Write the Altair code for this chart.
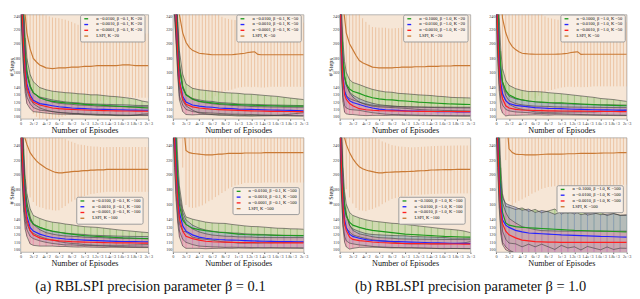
import altair as alt
import pandas as pd

SERIF = "Liberation Serif"
EPISODES = [0, 25, 50, 75, 100, 150, 200, 300, 400, 500, 600, 700, 800, 900, 1000,
            1100, 1200, 1300, 1400, 1500, 1600, 1700, 1800, 1900, 2000]
EP_FINE = list(range(0, 2001, 50))
X_TICKS = [0, 200, 400, 600, 800, 1000, 1200, 1400, 1600, 1800, 2000]
Y_TICKS = [100, 110, 120, 130, 140, 160, 180, 200, 220, 240]
ALPHAS_B01 = ["0.0100", "0.0010", "0.0001"]
ALPHAS_B10 = ["0.1000", "0.0100", "0.0010"]
CAPTION_A = "(a) RBLSPI precision parameter β = 0.1"
CAPTION_B = "(b) RBLSPI precision parameter β = 1.0"

LINE_COLORS = ["#1f9a1f", "#2424ff", "#ff1f1f", "#c97a35"]
BAND_COLORS = ["#b5d196", "#a3a8bf", "#d79aa9", "#f5e2cf"]
BAR_COLORS = ["#86b962", "#8a8fd6", "#ec7da3", "#e4aa7c"]

# ---- (a) beta = 0.1, K = 20
A20_G_MEAN = [300, 260, 215, 180, 158, 141, 133, 126, 123, 121, 120, 119, 118.5, 118, 117, 116.5, 116, 115.5, 115, 114.5, 114, 113.5, 113, 112.5, 112]
A20_G_SD = [40, 40, 35, 28, 22, 17, 15, 14, 14, 14, 14, 14, 14, 13.5, 14, 13.5, 14, 13.5, 13, 13, 12.5, 12, 11, 9, 8]
A20_B_MEAN = [300, 250, 200, 165, 145, 130, 122.5, 118, 116.5, 115, 113.6, 112.8, 112, 111.5, 111, 110.6, 110.3, 110, 109.8, 109.5, 109.3, 109.1, 109, 108.9, 108.8]
A20_B_SD = [40, 40, 35, 25, 18, 12, 10, 9, 8.5, 8, 8, 7.5, 7.5, 7.5, 7, 7, 7, 7, 7, 7, 7, 7, 6.5, 6.5, 6.5]
A20_R_MEAN = [300, 245, 195, 160, 140, 127, 120, 116, 114, 112, 111, 110.5, 110, 109.6, 109.2, 108.9, 108.6, 108.4, 108.2, 108, 107.9, 107.8, 107.7, 107.6, 107.5]
A20_R_SD = [40, 40, 35, 28, 22, 16, 13, 10, 9, 8, 7.5, 7, 7, 6.5, 6.5, 6.5, 6, 6, 6, 6, 6, 6, 6, 6, 6]
A20_L_MEAN = [320, 260, 215, 193, 180, 175, 171, 169, 167, 166.5, 166, 166.5, 167, 167, 167, 167.5, 168, 168, 168, 168.5, 169, 169, 169, 169.5, 170, 170, 170, 170, 170, 170, 170, 170.5, 171, 171, 171, 170.5, 170, 170, 170, 170, 170]
A20_L_SD = [80, 80, 80, 78, 76, 75, 74, 73, 72, 71, 70, 69, 68, 67, 66, 64, 62, 60, 58, 56, 55, 53, 52, 51, 50, 49, 48, 47, 46, 45, 45, 45, 45, 44, 44, 44, 44, 44, 44, 44, 44]

# ---- (a) beta = 0.1, K = 50
A50_G_MEAN = [310, 290, 250, 200, 165, 140, 130, 124, 121, 120, 119, 118, 117.5, 117, 116.5, 116, 115.8, 115.5, 115.2, 115, 114.8, 114.6, 114.5, 114.5, 114.5]
A50_G_SD = [40, 40, 35, 30, 25, 18, 15, 15, 16, 16, 16, 16, 15.5, 15.5, 15.5, 15, 15, 14.5, 14, 13.5, 13, 12, 11, 10, 9]
A50_B_MEAN = [310, 280, 240, 190, 150, 128, 120, 116, 114.5, 113.5, 113, 112, 111.5, 111, 110.5, 110.2, 110, 109.7, 109.4, 109.2, 109, 108.8, 108.6, 108.4, 108.2]
A50_B_SD = [40, 40, 35, 30, 22, 12, 10, 9, 8.5, 8, 8, 7.5, 7.5, 7.5, 7, 7, 7, 7, 7, 7, 7, 7, 7, 7, 7]
A50_R_MEAN = [310, 280, 235, 185, 148, 125, 117, 113.5, 112, 111, 110.3, 109.8, 109.4, 109, 108.6, 108.3, 108, 107.8, 107.6, 107.4, 107.3, 107.2, 107.1, 107, 107]
A50_R_SD = [40, 40, 35, 30, 25, 18, 14, 11, 9, 8, 7.5, 7, 7, 6.5, 6.5, 6.5, 6, 6, 6, 6, 6, 6, 6, 6, 6]
A50_L_MEAN = [330, 300, 240, 215, 202, 195, 191, 189, 187, 186.5, 186, 185.5, 185, 185, 185, 185, 185, 185, 185, 185.5, 186, 186.5, 187, 188, 188.5, 189, 185.5, 185, 185, 185, 185, 185, 185, 185, 185, 185, 185, 185, 185, 185, 185]
A50_L_SD = [80, 80, 80, 80, 80, 78, 75, 72, 70, 67, 65, 62, 60, 57, 55, 52, 50, 49, 48, 47, 46, 46, 46, 47, 48, 48, 45, 45, 45, 44.5, 44, 44, 44, 44, 44, 44, 44, 44, 44, 44, 44]

# ---- (a) beta = 0.1, K = 100
A100_G_MEAN = [300, 250, 200, 170, 155, 140, 134, 130, 127, 125, 123.5, 122, 121, 120, 119, 118.5, 118, 117.5, 117, 116.5, 116, 115.8, 115.5, 115.2, 115]
A100_G_SD = [40, 40, 35, 25, 20, 15, 12, 12, 12, 12, 12.5, 12.5, 12.5, 12, 12, 12, 12, 11.5, 11, 10.5, 10, 9.5, 9, 8.5, 8]
A100_B_MEAN = [300, 240, 190, 160, 145, 130, 125, 121, 118.5, 116.5, 115.5, 114.5, 114, 113.5, 113, 112.6, 112.3, 112, 111.7, 111.4, 111.2, 111, 110.9, 110.8, 110.7]
A100_B_SD = [40, 40, 30, 22, 18, 12, 10, 9, 8.5, 8, 8, 8, 7.5, 7.5, 7.5, 7, 7, 7, 7, 7, 7, 7, 7, 7, 7]
A100_R_MEAN = [300, 235, 185, 155, 140, 126, 120, 116, 114, 113, 112, 111.5, 111, 110.7, 110.4, 110.1, 109.9, 109.7, 109.5, 109.4, 109.3, 109.2, 109.1, 109, 109]
A100_R_SD = [40, 40, 35, 28, 22, 18, 14, 11, 9, 8, 7.5, 7, 7, 7, 6.5, 6.5, 6.5, 6.5, 6, 6, 6, 6, 6, 6, 6]
A100_L_MEAN = [300, 255, 241, 230, 224, 219, 215, 212, 209, 207, 205, 203.5, 203, 203, 203.5, 204, 204.5, 205, 205, 205.5, 206, 206, 206.5, 206.5, 207, 207, 207, 207.5, 207.5, 207.5, 207.5, 207.5, 207.5, 207.5, 207.5, 207.5, 207.5, 207.5, 207.5, 207.5, 207.5]
A100_L_SD = [60, 60, 60, 60, 60, 60, 58, 56, 55, 53, 52, 51, 50, 47, 45, 42, 40, 38, 36, 35, 34, 33, 32, 31.5, 31, 30.5, 30, 30, 30, 30, 30, 30, 30, 30, 30, 30, 30, 30, 30, 30, 30]

# ---- (a) beta = 0.1, K = 500
A500_G_MEAN = [310, 280, 240, 190, 160, 140, 134, 129, 127, 125.6, 124.5, 123.5, 122.8, 122, 121, 120.5, 120.2, 120, 119.8, 119.6, 119.4, 119.2, 119.1, 119, 119]
A500_G_SD = [40, 40, 35, 30, 25, 15, 10, 12, 12, 11.5, 11.5, 12, 12.5, 12, 12, 11.5, 11, 11, 10.5, 10, 9.5, 9.5, 9, 9, 8.5]
A500_B_MEAN = [310, 260, 210, 170, 150, 132, 125, 120, 117, 115.5, 114.5, 113.8, 113.3, 113, 112.8, 112.4, 112, 111.7, 111.5, 111.3, 111.1, 111, 110.9, 110.8, 110.7]
A500_B_SD = [40, 40, 35, 28, 25, 18, 15, 13, 12, 11, 10.5, 10, 10, 9.5, 9.5, 9, 9, 9, 9, 8.5, 8.5, 8.5, 8.5, 8.5, 8.5]
A500_R_MEAN = [310, 250, 200, 165, 142, 125, 118, 115, 113, 111.5, 110.8, 110.5, 110.2, 110, 109.8, 109.7, 109.6, 109.5, 109.5, 109.4, 109.4, 109.4, 109.4, 109.4, 109.4]
A500_R_SD = [40, 40, 35, 30, 25, 20, 16, 13, 11, 10, 9, 8.5, 8, 8, 7.5, 7.5, 7.5, 7, 7, 7, 7, 7, 7, 7, 7]
A500_L_MEAN = [330, 330, 320, 280, 233, 230, 229, 228.5, 228, 227.5, 227, 227, 227, 227.5, 228, 228, 228.5, 229, 229, 229, 229, 229, 229.5, 229.5, 229.5, 229.5, 229.5, 229.5, 230, 230, 230, 230, 230, 230, 230, 230, 230, 230, 230, 230, 230]
A500_L_SD = [70, 70, 70, 70, 73, 73, 73, 72, 70, 68, 65, 62, 60, 57, 55, 52, 50, 47, 45, 43, 42, 41, 40, 40, 40, 40, 40, 40, 40, 40, 40, 40, 40, 40, 40, 40, 40, 40, 40, 40, 40]

# ---- (b) beta = 1.0, K = 20
B20_G_MEAN = [300, 220, 175, 155, 145, 138, 135, 132, 128.5, 126, 124.5, 123.5, 123, 122, 121.5, 120.8, 120, 119.5, 119, 118.5, 118, 117.5, 117.2, 117, 116.7]
B20_G_SD = [40, 35, 28, 20, 16, 13, 12, 12, 12, 11.5, 11, 10.5, 10.5, 10, 10, 10, 10, 10, 10, 9.5, 9.5, 9, 9, 9, 9]
B20_B_MEAN = [300, 200, 155, 135, 128, 122, 119.5, 116.7, 114, 112, 110.5, 109.5, 109, 108.6, 108.2, 107.9, 107.6, 107.4, 107.2, 107, 106.9, 106.8, 106.7, 106.6, 106.6]
B20_B_SD = [40, 35, 28, 20, 16, 12, 10, 8, 7, 6.5, 6, 6, 6, 5.5, 5.5, 5.5, 5.5, 5.5, 5.5, 5.5, 5.5, 5.5, 5.5, 5.5, 5.5]
B20_R_MEAN = [300, 195, 150, 130, 124, 118, 115, 111, 109.5, 108.8, 108.4, 108.2, 108, 107.8, 107.6, 107.5, 107.4, 107.3, 107.2, 107.2, 107.1, 107.1, 107, 107, 107]
B20_R_SD = [40, 35, 30, 24, 20, 15, 12, 9, 8, 7, 6.5, 6.5, 6, 6, 6, 6, 6, 6, 6, 6, 6, 6, 6, 6, 6]
B20_L_MEAN = [320, 255, 215, 200, 192, 184, 177, 174, 172, 170, 168, 167.5, 167, 167, 167, 167, 167, 167.5, 167.5, 168, 168, 168, 168, 168.5, 168.5, 168.5, 168.5, 169, 169, 169, 169, 169.5, 169.5, 169.5, 169.5, 170, 170, 170, 170, 170, 170]
B20_L_SD = [80, 80, 80, 78, 75, 70, 65, 61, 58, 56, 55, 55, 55, 55, 55, 54, 54, 54, 54, 54, 54, 54, 54, 54, 54, 54, 54, 54, 54, 54, 54, 54, 54, 54, 54, 54, 54, 54, 54, 54, 54]

# ---- (b) beta = 1.0, K = 50
B50_G_MEAN = [310, 250, 200, 165, 148, 136, 130, 125.5, 123, 121.5, 120.5, 120, 119.5, 119.2, 119, 118.5, 118, 117.5, 117, 116.5, 116, 115.8, 115.5, 115.2, 115]
B50_G_SD = [40, 40, 35, 25, 18, 14, 13, 13, 13, 13, 14, 14, 13.5, 13, 12.5, 12, 11.5, 11, 10.5, 10, 9, 8.5, 8, 7, 6]
B50_B_MEAN = [310, 230, 175, 145, 132, 122, 118, 115.5, 114.5, 113.5, 112.5, 112, 111.5, 111.2, 111, 110.6, 110.3, 110, 109.8, 109.6, 109.4, 109.3, 109.2, 109.1, 109]
B50_B_SD = [40, 40, 30, 22, 16, 12, 10, 9, 8.5, 8, 8, 7.5, 7.5, 7, 7, 7, 7, 7, 7, 7, 7, 7, 7, 7, 7]
B50_R_MEAN = [310, 220, 165, 135, 125, 115, 112, 110, 109.2, 108.8, 108.5, 108.3, 108.1, 108, 107.9, 107.8, 107.7, 107.6, 107.5, 107.4, 107.3, 107.2, 107.1, 107, 107]
B50_R_SD = [40, 40, 30, 24, 20, 14, 10, 8, 7, 6.5, 6, 6, 6, 5.5, 5.5, 5.5, 5.5, 5.5, 5.5, 5.5, 5.5, 5.5, 5.5, 5.5, 5.5]
B50_L_MEAN = [330, 300, 235, 215, 203, 196, 192, 189, 187, 186.5, 186, 185.8, 185.6, 185.6, 185.6, 185.6, 185.6, 185.6, 185.6, 185.8, 186, 186.5, 187, 188, 188.5, 189, 185.5, 185.6, 185.6, 185.6, 185.6, 185.6, 185.6, 185.6, 185.6, 185.6, 185.6, 185.6, 185.6, 185.6, 185.6]
B50_L_SD = [80, 80, 80, 80, 80, 78, 75, 72, 70, 67, 65, 62, 60, 57, 55, 52, 50, 49, 48, 47, 46, 46, 46, 47, 48, 48, 45, 45, 45, 44.5, 44, 44, 44, 44, 44, 44, 44, 44, 44, 44, 44]

# ---- (b) beta = 1.0, K = 100
B100_G_MEAN = [300, 230, 180, 155, 145, 137, 133, 130, 127.7, 126, 125, 124, 123, 122, 121, 120.5, 120, 119.5, 119, 118.5, 118, 117.8, 117.5, 117.2, 117]
B100_G_SD = [40, 40, 30, 22, 16, 13, 13, 12.7, 12.5, 12.5, 12.5, 12.5, 12.5, 13, 13, 12.5, 12, 11.5, 11, 10.5, 10, 9.5, 9, 8, 6]
B100_B_MEAN = [300, 220, 165, 140, 130, 121, 118, 115.5, 113.7, 112.5, 112, 111.6, 111.2, 110.9, 110.7, 110.4, 110.1, 109.8, 109.5, 109.2, 109, 108.8, 108.7, 108.6, 108.5]
B100_B_SD = [40, 40, 30, 22, 18, 12, 10, 9, 8, 8, 8, 8, 8, 8, 8, 7.5, 7.5, 7.5, 7.5, 7.5, 7.5, 7, 7, 7, 7]
B100_R_MEAN = [300, 215, 160, 135, 126, 117, 114, 112.3, 111.5, 110.5, 109.8, 109.4, 109, 108.7, 108.5, 108.3, 108.2, 108.1, 108, 107.9, 107.9, 107.8, 107.8, 107.7, 107.7]
B100_R_SD = [40, 40, 30, 25, 22, 16, 12, 9, 8, 7, 6.5, 6.5, 6.5, 6, 6, 6, 6, 6, 6, 6, 6, 6, 6, 6, 6]
B100_L_MEAN = [300, 258, 241, 230, 222, 216, 211, 208.5, 206.7, 205.5, 204.5, 203.5, 203, 203, 203.5, 203.8, 204, 204.2, 204.3, 204.5, 204.6, 204.8, 205, 205.2, 205.5, 205.8, 206, 206.3, 206.7, 206.8, 207, 207.1, 207.2, 207.2, 207.3, 207.4, 207.5, 207.5, 207.5, 207.5, 207.5]
B100_L_SD = [60, 60, 60, 60, 60, 60, 58, 56, 55, 52, 50, 47, 45, 42, 40, 38, 36, 35, 34, 33.5, 33, 32.5, 32, 32, 32, 32, 32, 32, 32, 32, 32, 32, 32, 32, 32, 32, 32, 32, 32, 32, 32]

# ---- (b) beta = 1.0, K = 500
B500_G_MEAN = [310, 280, 230, 180, 150, 136, 133, 131, 130, 129.5, 129, 128.5, 128, 127.5, 127, 126.5, 126, 125.8, 125.5, 125.2, 125, 124.8, 124.5, 124.2, 124]
B500_G_SD = [40, 40, 35, 30, 25, 22, 24, 23, 26, 22, 25, 21, 24, 27, 21, 24, 22, 26, 21, 23, 25, 21, 24, 22, 22]
B500_B_MEAN = [310, 260, 200, 160, 140, 133, 130, 126, 124, 122.5, 122, 121.5, 121, 120.5, 120, 119.7, 119.4, 119, 118.7, 118.4, 118, 117.8, 117.5, 117.2, 117]
B500_B_SD = [40, 40, 35, 32, 30, 29, 30, 31, 29, 32, 28, 31, 30, 27, 31, 29, 32, 28, 30, 31, 29, 30, 31, 29, 30]
B500_R_MEAN = [310, 250, 190, 150, 135, 125, 120, 116, 113, 112, 111, 110.7, 110.4, 110.2, 110, 110, 110, 110, 110, 110, 110, 110, 110, 110, 110]
B500_R_SD = [40, 40, 35, 30, 28, 25, 22, 20, 18, 17, 16, 15, 15, 15, 15, 15, 15, 15, 15, 15, 15, 15, 15, 15, 15]
B500_L_MEAN = [330, 330, 330, 290, 235, 230, 228, 227.5, 227.5, 227, 227, 227, 227, 227.2, 227.5, 227.8, 228, 228, 228, 228, 228, 228.2, 228.5, 228.5, 228.5, 228.8, 229, 229, 229, 229, 229, 229.2, 229.4, 229.5, 229.5, 229.5, 229.5, 229.8, 230, 230, 230]
B500_L_SD = [70, 70, 70, 70, 70, 70, 65, 62, 60, 57, 55, 52, 50, 48, 46, 45, 44, 43.5, 43, 43, 43, 43, 43, 43, 43, 43, 43, 43, 43, 43, 43, 43, 43, 43, 43, 43, 43, 43, 43, 43, 43]

X_SCALE = alt.Scale(domain=[0, 2000], nice=False)


def make_panel(series, lspi, k, beta, alphas, ytitle, lx, ly, width, height, ytop):
    labels = [f"α ={a}, β ={beta}, K ={k}" for a in alphas] + [f"LSPI, K ={k}"]
    rows = []
    for i, (lab, (m, s)) in enumerate(zip(labels[:3], series)):
        for e, mv, sv in zip(EPISODES, m, s):
            rows.append({"series": lab, "ep": e, "mean": mv, "lo": mv - sv, "hi": mv + sv,
                         "band": BAND_COLORS[i], "bar": BAR_COLORS[i], "lspi": False})
    for e, mv, sv in zip(EP_FINE, lspi[0], lspi[1]):
        rows.append({"series": labels[3], "ep": e, "mean": mv, "lo": mv - sv, "hi": mv + sv,
                     "band": BAND_COLORS[3], "bar": BAR_COLORS[3], "lspi": True})
    df = pd.DataFrame(rows)
    y_scale = alt.Scale(domain=[97, ytop], nice=False, zero=False)

    xaxis = alt.Axis(values=X_TICKS, format=",", title="Number of Episodes", labelFont=SERIF,
                     titleFont=SERIF, labelFontSize=4.3, titleFontSize=8.5, titleFontWeight="normal",
                     labelPadding=1, tickSize=1.5, titlePadding=0, labelFlush=False, grid=False,
                     domain=False, labelColor="#333", titleColor="#111", tickColor="#666",
                     labelOverlap=False)
    yargs = dict(values=Y_TICKS, labelFont=SERIF, labelFontSize=4.3, labelPadding=1, tickSize=0,
                 grid=False, domain=False, labelColor="#333", minExtent=6, maxExtent=6,
                 labelFlush=True, labelFlushOffset=0, labelOverlap=False)
    if ytitle:
        yaxis = alt.Axis(title="# Steps", titleFont=SERIF, titleFontSize=6.5, titleFontWeight="normal",
                         titlePadding=0.5, titleColor="#111", **yargs)
    else:
        yaxis = alt.Axis(title=None, **yargs)

    X = alt.X("ep:Q", scale=X_SCALE, axis=xaxis)

    def Y(f):
        return alt.Y(f, type="quantitative", scale=y_scale, axis=yaxis)

    base = alt.Chart(df)
    lspi_bars = base.transform_filter("datum.lspi").mark_rule(
        clip=True, strokeWidth=0.7, opacity=0.85).encode(
        x=X, y=Y("lo"), y2="hi:Q", stroke=alt.Stroke("bar:N", scale=None))
    bands = base.transform_filter("!datum.lspi").mark_area(clip=True, opacity=0.6).encode(
        x=X, y=Y("lo"), y2="hi:Q", fill=alt.Fill("band:N", scale=None), detail="series:N")
    bars = base.transform_filter("!datum.lspi && datum.ep >= 50").mark_rule(
        clip=True, strokeWidth=0.8, opacity=0.8).encode(
        x=X, y=Y("lo"), y2="hi:Q", stroke=alt.Stroke("bar:N", scale=None))
    edge_lo = base.transform_filter("!datum.lspi").mark_line(
        clip=True, strokeWidth=0.6, color="#3a3a3a").encode(x=X, y=Y("lo"), detail="series:N")
    edge_hi = base.transform_filter("!datum.lspi").mark_line(
        clip=True, strokeWidth=0.6, color="#3a3a3a").encode(x=X, y=Y("hi"), detail="series:N")
    lines = base.mark_line(clip=True, strokeWidth=1.2).encode(
        x=X, y=Y("mean"),
        color=alt.Color("series:N", scale=alt.Scale(domain=labels, range=LINE_COLORS),
                        legend=alt.Legend(title=None, orient="none", legendX=lx, legendY=ly,
                                          labelFont=SERIF, labelFontSize=4.7, labelColor="#111",
                                          symbolType="M0,0H8", symbolSize=1, symbolStrokeWidth=1.4,
                                          rowPadding=-2.3, padding=2, labelOffset=10, labelLimit=200,
                                          fillColor="#f9efe6", strokeColor="#9a9a9a",
                                          cornerRadius=1.5)))
    return alt.layer(lspi_bars, bands, bars, edge_lo, edge_hi, lines).properties(width=width, height=height)


def ind(c):
    return c.resolve_scale(color="independent").resolve_legend(color="independent")


pA20 = make_panel([(A20_G_MEAN, A20_G_SD), (A20_B_MEAN, A20_B_SD), (A20_R_MEAN, A20_R_SD)], (A20_L_MEAN, A20_L_SD),
                  20, "0.1", ALPHAS_B01, True, 62, 0, 133, 108.5, 240)
pA50 = make_panel([(A50_G_MEAN, A50_G_SD), (A50_B_MEAN, A50_B_SD), (A50_R_MEAN, A50_R_SD)], (A50_L_MEAN, A50_L_SD),
                  50, "0.1", ALPHAS_B01, False, 66, 0, 136, 108.5, 240)
pA100 = make_panel([(A100_G_MEAN, A100_G_SD), (A100_B_MEAN, A100_B_SD), (A100_R_MEAN, A100_R_SD)], (A100_L_MEAN, A100_L_SD),
                   100, "0.1", ALPHAS_B01, True, 58, 61.5, 133, 119, 250)
pA500 = make_panel([(A500_G_MEAN, A500_G_SD), (A500_B_MEAN, A500_B_SD), (A500_R_MEAN, A500_R_SD)], (A500_L_MEAN, A500_L_SD),
                   500, "0.1", ALPHAS_B01, False, 62, 51.5, 136, 119, 250)
pB20 = make_panel([(B20_G_MEAN, B20_G_SD), (B20_B_MEAN, B20_B_SD), (B20_R_MEAN, B20_R_SD)], (B20_L_MEAN, B20_L_SD),
                  20, "1.0", ALPHAS_B10, True, 66, 0, 136, 108.5, 240)
pB50 = make_panel([(B50_G_MEAN, B50_G_SD), (B50_B_MEAN, B50_B_SD), (B50_R_MEAN, B50_R_SD)], (B50_L_MEAN, B50_L_SD),
                  50, "1.0", ALPHAS_B10, False, 67, 0, 136, 108.5, 240)
pB100 = make_panel([(B100_G_MEAN, B100_G_SD), (B100_B_MEAN, B100_B_SD), (B100_R_MEAN, B100_R_SD)], (B100_L_MEAN, B100_L_SD),
                   100, "1.0", ALPHAS_B10, True, 61, 61.5, 136, 119, 250)
pB500 = make_panel([(B500_G_MEAN, B500_G_SD), (B500_B_MEAN, B500_B_SD), (B500_R_MEAN, B500_R_SD)], (B500_L_MEAN, B500_L_SD),
                   500, "1.0", ALPHAS_B10, False, 63, 49.5, 136, 119, 250)


def group(p1, p2, p3, p4, caption, dx, sp):
    r1 = ind(alt.hconcat(p1, p2, spacing=sp))
    r2 = ind(alt.hconcat(p3, p4, spacing=sp))
    return ind(alt.vconcat(r1, r2, spacing=2).properties(
        title=alt.TitleParams(caption, orient="bottom", anchor="middle", font=SERIF, fontSize=15,
                              fontWeight="normal", color="#111", offset=12.5, dx=dx)))


gA = group(pA20, pA50, pA100, pA500, CAPTION_A, -8, 12.5)
gB = group(pB20, pB50, pB100, pB500, CAPTION_B, -9, 13.5)

chart = ind(alt.hconcat(gA, gB, spacing=19)).properties(
    padding={"top": 0, "left": 0, "right": 0, "bottom": 0}
).configure_view(stroke="#9a9a9a", strokeWidth=0.7, fill="#f6e6d6")

chart.save("out.html", embed_options={"renderer": "svg", "actions": False})
